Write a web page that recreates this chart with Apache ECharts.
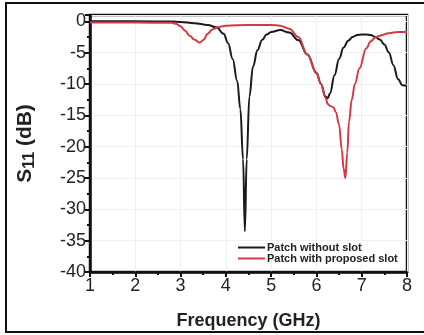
<!DOCTYPE html>
<html>
<head>
<meta charset="utf-8">
<script src="https://cdn.jsdelivr.net/npm/echarts@6/dist/echarts.min.js"></script>
<style>
  html, body { margin: 0; padding: 0; background: #fff; }
  #chart { width: 424px; height: 335px; }
</style>
</head>
<body>
<div id="chart"></div>
<script>
// S11 of patch without slot (black)
const blackFreq = [1, 2, 2.8, 3.0, 3.3, 3.6, 3.8, 3.95, 4.05, 4.15, 4.25, 4.32, 4.38, 4.42, 4.46, 4.52, 4.6, 4.7, 4.8, 4.9, 5.0, 5.2, 5.4, 5.6, 5.8, 6.0, 6.1, 6.2, 6.25, 6.3, 6.4, 6.5, 6.6, 6.7, 6.8, 6.9, 7.0, 7.1, 7.2, 7.3, 7.4, 7.5, 7.6, 7.7, 7.8, 7.9, 8.0]
const blackS11 = [0, 0, -0.05, -0.1, -0.3, -0.6, -1.0, -2.0, -3.5, -6.0, -9.5, -14, -22, -33.5, -22, -12, -7.2, -4.6, -3.0, -2.1, -1.7, -1.4, -1.8, -3.0, -5.3, -8.2, -10, -12, -12.3, -11.5, -8.6, -6, -4.2, -3.1, -2.5, -2.2, -2.1, -2.1, -2.2, -2.5, -2.9, -3.7, -5, -7, -9.2, -10.2, -10.3]

// S11 of patch with proposed slot (red)
const redFreq = [1, 2, 2.8, 2.9, 3.0, 3.1, 3.2, 3.3, 3.42, 3.5, 3.6, 3.7, 3.85, 4.0, 4.5, 5.0, 5.2, 5.4, 5.6, 5.8, 6.0, 6.1, 6.2, 6.25, 6.3, 6.37, 6.43, 6.5, 6.56, 6.6, 6.64, 6.68, 6.72, 6.78, 6.85, 6.95, 7.1, 7.2, 7.3, 7.4, 7.6, 7.8, 8.0]
const redS11 = [-0.2, -0.2, -0.25, -0.4, -0.8, -1.5, -2.3, -2.9, -3.4, -3.0, -2.0, -1.3, -0.9, -0.7, -0.6, -0.6, -0.7, -1.2, -2.5, -5.3, -8.3, -10, -12.2, -13.2, -13.5, -13.7, -14.5, -16.5, -20.5, -23.5, -25, -21, -16, -12.5, -10, -7.5, -4.3, -3.2, -2.6, -2.3, -1.9, -1.7, -1.7]

const xTicks = [1, 2, 3, 4, 5, 6, 7, 8]
const yTicks = [-40, -35, -30, -25, -20, -15, -10, -5, 0]

const chart = echarts.init(document.getElementById("chart"), null, { renderer: "canvas" })

const axisFont = "Liberation Sans, Arial, sans-serif"

const option = {
  animation: false,
  graphic: [
    {
      type: "rect",
      shape: { x: 6, y: 3, width: 440, height: 329 },
      style: { fill: "none", stroke: "#111", lineWidth: 2 },
      silent: true,
    },
  ],
  grid: {
    left: 90,
    right: 17,
    top: 15,
    bottom: 63,
    show: true,
    borderColor: "#111",
    borderWidth: 2.5,
    backgroundColor: "transparent",
  },
  legend: {
    left: 233,
    top: 237,
    orient: "vertical",
    icon: "rect",
    itemWidth: 27,
    itemHeight: 2,
    itemGap: 0,
    textStyle: {
      fontFamily: axisFont,
      fontWeight: "bold",
      fontSize: 11,
      lineHeight: 9,
      color: "#222",
      padding: [0, 0, 0, -3],
    },
    data: ["Patch without slot", "Patch with proposed slot"],
  },
  xAxis: {
    type: "value",
    min: xTicks[0],
    max: xTicks[xTicks.length - 1],
    interval: 1,
    name: "Frequency (GHz)",
    nameLocation: "middle",
    nameGap: 40,
    nameTextStyle: { fontFamily: axisFont, fontWeight: "bold", fontSize: 18, color: "#222" },
    axisLine: { onZero: false, lineStyle: { color: "#111", width: 2.5 } },
    axisTick: { show: true, inside: false, length: 5, lineStyle: { color: "#111", width: 2 } },
    minorTick: { show: true, splitNumber: 2, length: 3, lineStyle: { color: "#111", width: 2 } },
    axisLabel: { fontFamily: axisFont, fontSize: 18, color: "#222", margin: 5 },
    splitLine: { show: true, lineStyle: { color: "#f0f0f0", width: 1 } },
  },
  yAxis: {
    type: "value",
    min: yTicks[0],
    max: 1,
    interval: 5,
    name: "{a|S}{b|11}{a| (dB)}",
    nameLocation: "middle",
    nameGap: 52,
    nameRotate: 90,
    nameTextStyle: {
      rich: {
        a: { fontFamily: axisFont, fontWeight: "bold", fontSize: 21, color: "#222" },
        b: { fontFamily: axisFont, fontWeight: "bold", fontSize: 16, color: "#222", padding: [9, 0, 0, 0] },
      },
    },
    axisLine: { onZero: false, lineStyle: { color: "#111", width: 2.5 } },
    axisTick: { show: true, inside: false, length: 5, lineStyle: { color: "#111", width: 2 } },
    minorTick: { show: true, splitNumber: 2, length: 3, lineStyle: { color: "#111", width: 2 } },
    axisLabel: {
      fontFamily: axisFont,
      fontSize: 18,
      color: "#222",
      margin: 4,
      formatter: (v) => (v > 0 ? "" : String(v)),
    },
    splitLine: { show: true, lineStyle: { color: "#f0f0f0", width: 1 } },
  },
  series: [
    {
      name: "Patch without slot",
      type: "line",
      data: blackFreq.map((f, i) => [f, blackS11[i]]),
      showSymbol: false,
      smooth: 0.4,
      smoothMonotone: "x",
      lineStyle: { color: "#1a1a1a", width: 2 },
      itemStyle: { color: "#1a1a1a" },
      z: 2,
    },
    {
      name: "Patch with proposed slot",
      type: "line",
      data: redFreq.map((f, i) => [f, redS11[i]]),
      showSymbol: false,
      smooth: 0.4,
      smoothMonotone: "x",
      lineStyle: { color: "#d33a45", width: 2 },
      itemStyle: { color: "#d33a45" },
      z: 3,
    },
  ],
}

chart.setOption(option)
</script>
</body>
</html>
